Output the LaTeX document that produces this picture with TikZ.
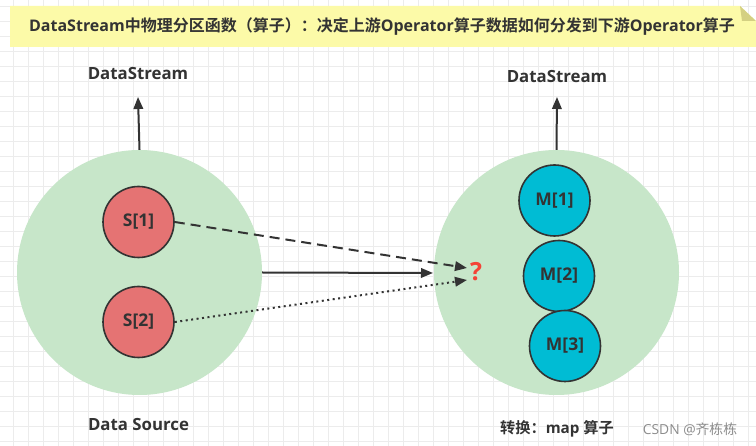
\documentclass[tikz,border=0pt]{standalone}
\usepackage{fontspec}
\setmainfont{Open Sans}
\newfontfamily\cjk{Noto Sans CJK SC}[BoldFont={Noto Sans CJK SC Bold}]
\usetikzlibrary{arrows.meta}
\definecolor{notefill}{RGB}{252,250,168}
\definecolor{notefold}{RGB}{212,208,130}
\definecolor{bggreen}{RGB}{199,230,201}
\definecolor{sred}{RGB}{229,115,115}
\definecolor{mcyan}{RGB}{0,188,212}
\definecolor{ink}{RGB}{51,51,51}
\definecolor{qred}{RGB}{244,67,54}
\definecolor{gridc}{RGB}{236,236,236}
\tikzset{
  bigc/.style={circle,fill=bggreen,draw=none,minimum size=245pt,inner sep=0pt},
  snode/.style={circle,fill=sred,draw=ink,line width=1.6pt,minimum size=71pt,inner sep=0pt,
    font=\fontsize{17.5}{20}\selectfont\bfseries,text=ink},
  mnode/.style={circle,fill=mcyan,draw=ink,line width=1.6pt,minimum size=71pt,inner sep=0pt,
    font=\fontsize{17.5}{20}\selectfont\bfseries,text=ink},
  lbl/.style={font=\fontsize{16.8}{20}\selectfont\bfseries,text=ink,inner sep=0pt},
  arr/.style={draw=ink,line width=2pt,-{Triangle[length=12pt,width=9.5pt]}},
  gridline/.style={draw=gridc,line width=0.8pt}
}
\begin{document}
\begin{tikzpicture}[x=1pt,y=-1pt]
\useasboundingbox (0,0) rectangle (756,446);
\fill[white] (0,0) rectangle (756,446);
% grid
\foreach \x in {13.33,28.33,...,756} \draw[gridline] (\x,0) -- (\x,446);
\foreach \y in {6.67,21.67,...,446} \draw[gridline] (0,\y) -- (756,\y);
% note
\fill[notefill] (10,6) -- (740,6) -- (756,21) -- (756,47) -- (10,47) -- cycle;
\fill[notefold] (740,6) -- (742,21) -- (756,21) -- cycle;
\node[inner sep=0pt,text=ink,font=\fontsize{16}{19}\selectfont\bfseries] (title) at (382,27)
  {DataStream{\cjk 中物理分区函数（算子）：决定上游}Operator{\cjk 算子数据如何分发到下游}Operator{\cjk 算子}};
% big circles
\node[bigc] (src) at (139.5,272.5) {};
\node[bigc] (dst) at (556.5,272.5) {};
% inner nodes
\node[snode] (s1) at (138.5,222) {S[1]};
\node[snode] (s2) at (138.5,322) {S[2]};
\node[mnode] (m1) at (554.5,200.5) {M[1]};
\node[mnode] (m2) at (559,276) {M[2]};
\node[mnode] (m3) at (565,346) {M[3]};
% labels
\node[lbl] (ds1) at (138,74) {DataStream};
\node[lbl] (ds2) at (557,77) {DataStream};
\node[lbl] (srclbl) at (138.5,425) {Data Source};
\node[lbl,font=\fontsize{15.2}{18}\selectfont\bfseries] (dstlbl) at (557,429) {{\cjk\bfseries 转换：}map {\cjk\bfseries 算子}};
\node[inner sep=0pt,text=black!45,font=\fontsize{13.8}{16}\selectfont] (wm) at (690,429) {CSDN @{\cjk 齐栋栋}};
\node[inner sep=0pt,text=qred,font=\fontsize{25}{28}\selectfont\bfseries] (q) at (476,272) {?};
% arrow end points
\coordinate (up1) at (138,97);
\coordinate (up2) at (557,97);
\coordinate (qa) at (467,268);
\coordinate (qb) at (433,273);
\coordinate (qc) at (467,280);
% arrows
\draw[arr] (src.north) -- (up1);
\draw[arr] (dst.north) -- (up2);
\draw[arr] (src.east) -- (qb);
\draw[arr,dash pattern=on 10pt off 6pt] (s1.east) -- (qa);
\draw[arr,dash pattern=on 2pt off 3.5pt] (s2.east) -- (qc);
\end{tikzpicture}
\end{document}
